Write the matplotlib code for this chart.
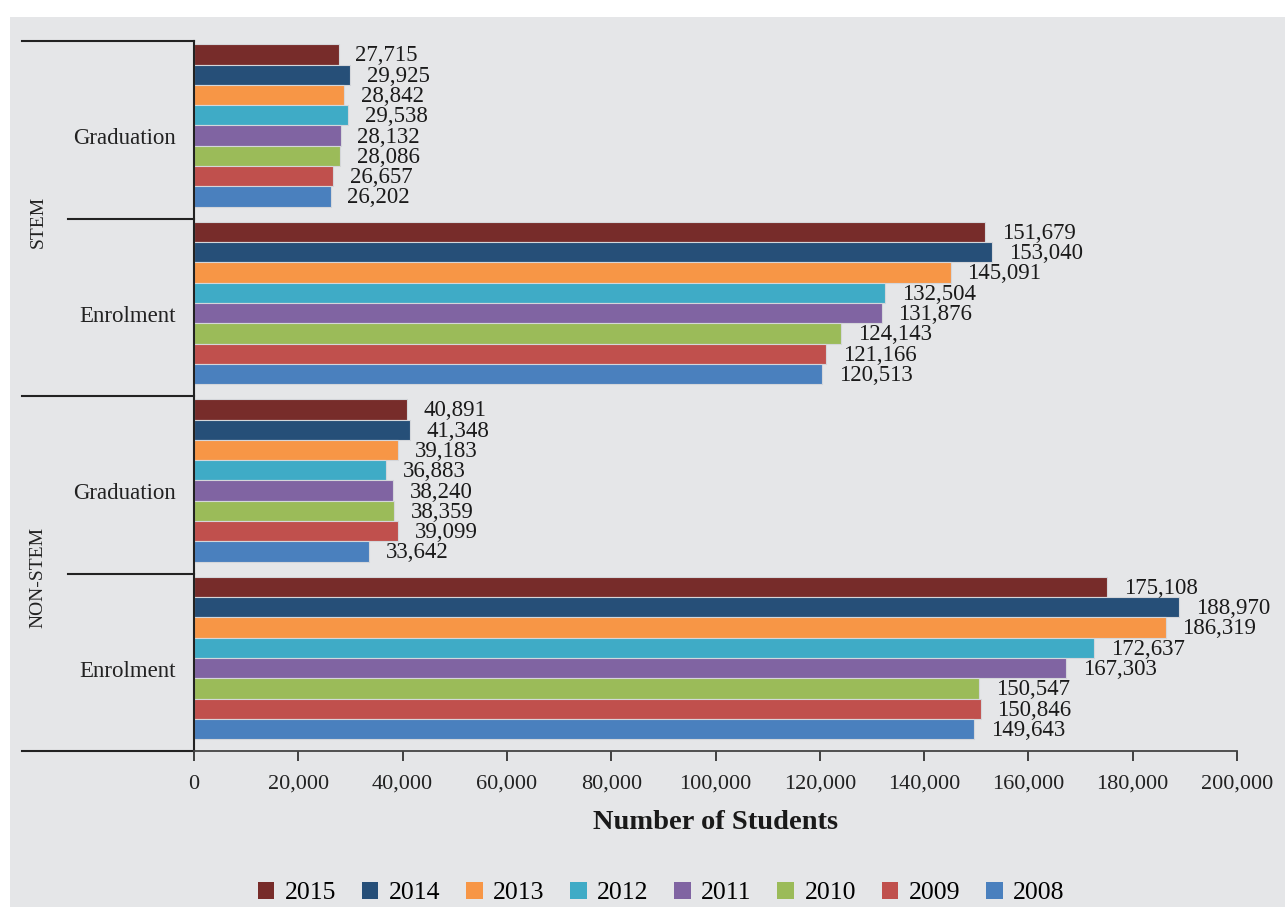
import matplotlib
matplotlib.use("Agg")
import matplotlib.pyplot as plt
import matplotlib.transforms as mtransforms
from matplotlib.patches import Rectangle, Patch
from matplotlib.ticker import FuncFormatter

# data (top group first)
groups = ["STEM", "NON-STEM"]
measures = ["Graduation", "Enrolment"]
years = ["2015", "2014", "2013", "2012", "2011", "2010", "2009", "2008"]
colors = ["#772C2A", "#264F78", "#F79646", "#3FABC6",
          "#8064A2", "#9BBB59", "#C0504D", "#4A80BE"]

stem_grad = [27715, 29925, 28842, 29538, 28132, 28086, 26657, 26202]
stem_enrol = [151679, 153040, 145091, 132504, 131876, 124143, 121166, 120513]
non_stem_grad = [40891, 41348, 39183, 36883, 38240, 38359, 39099, 33642]
non_stem_enrol = [175108, 188970, 186319, 172637, 167303, 150547, 150846, 149643]

series = [stem_grad, stem_enrol, non_stem_grad, non_stem_enrol]

plt.rcParams['font.family'] = ['Liberation Serif', 'DejaVu Serif']
W, H = 1285, 907
fig = plt.figure(figsize=(W / 100, H / 100), dpi=100, facecolor="white")
bg = "#E5E6E8"
fig.patches.append(Rectangle((10 / W, 0), 1 - 10 / W, (H - 17) / H,
                             transform=fig.transFigure, facecolor=bg,
                             edgecolor="none", zorder=-10))

ax = fig.add_axes([194 / W, (H - 751) / H, (1237 - 194) / W, (751 - 41) / H])
ax.set_facecolor(bg)

n = len(years)
pitch = 0.914 / n
top_off = 0.481
for gi, vals in enumerate(series):
    yc = 3 - gi
    for i, v in enumerate(vals):
        y = yc + top_off - (i + 0.5) * pitch
        ax.barh(y, v, height=pitch, color=colors[i],
                edgecolor="#d4d6da", linewidth=0.8)
        ax.annotate(f"{v:,}", (v, y), xytext=(12, -1),
                    textcoords="offset points", va="center", ha="left",
                    fontsize=16.5, color="#1a1a1a")

ax.set_xlim(0, 200000)
ax.set_ylim(-0.5, 3.5)
ax.set_xticks(range(0, 200001, 20000))
ax.xaxis.set_major_formatter(FuncFormatter(lambda x, p: f"{int(x):,}"))
ax.tick_params(axis="x", labelsize=16, length=7, width=1.3, color="#333333",
               labelcolor="#222222", pad=10)
ax.set_yticks([])
for s in ["top", "right"]:
    ax.spines[s].set_visible(False)
ax.spines["left"].set_color("#222222")
ax.spines["left"].set_linewidth(1.5)
ax.spines["bottom"].set_color("#444444")
ax.spines["bottom"].set_linewidth(1.3)

ax.set_xlabel("Number of Students", fontsize=20.5, fontweight="bold",
              labelpad=12, color="#1a1a1a")

# multi-level category axis
trans = mtransforms.blended_transform_factory(ax.transAxes, ax.transData)
x_outer = (22 - 194) / (1237 - 194)
x_inner = (68 - 194) / (1237 - 194)
for yb in [3.5, 1.5, -0.5]:
    ax.plot([x_outer, 0], [yb, yb], color="#222222", lw=1.5,
            transform=trans, clip_on=False)
for yb in [2.5, 0.5]:
    ax.plot([x_inner, 0], [yb, yb], color="#222222", lw=1.5,
            transform=trans, clip_on=False)

x_lab = (176 - 194) / (1237 - 194)
for gi in range(4):
    ax.text(x_lab, 3 - gi - 0.05, measures[gi % 2], transform=trans, ha="right",
            va="center", fontsize=16.5, color="#222222")
x_grp = (38 - 194) / (1237 - 194)
for k, g in enumerate(groups):
    ax.text(x_grp, 2.48 - 2 * k, g, transform=trans, ha="center",
            va="center", rotation=90, fontsize=14, color="#222222")

handles = [Patch(facecolor=c, edgecolor="none") for c in colors]
fig.legend(handles, years, loc="center", bbox_to_anchor=(661 / W, (H - 893) / H),
           ncol=n, frameon=False, fontsize=18.5, handlelength=0.65,
           handleheight=0.65, handletextpad=0.4, columnspacing=1.0)

fig.savefig("out.png", dpi=100, facecolor=fig.get_facecolor())
